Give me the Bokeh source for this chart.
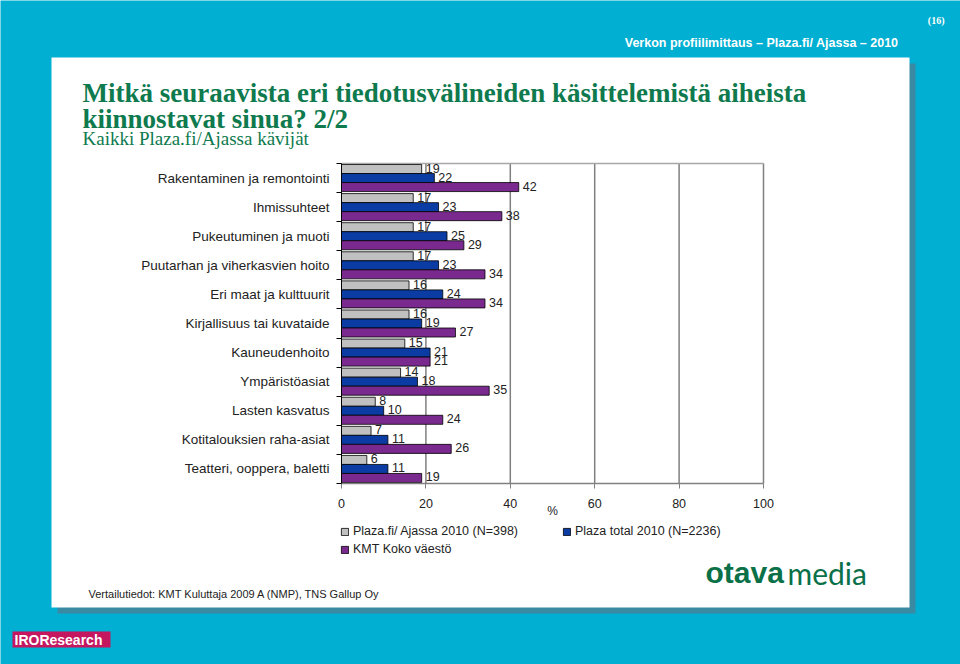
from bokeh.plotting import figure
from bokeh.models import Range1d, FixedTicker, BoxAnnotation, Label, Legend, LegendItem, LinearAxis
from bokeh.core.properties import value
from bokeh.embed import file_html
from bokeh.resources import INLINE

# ---------------- data ----------------
categories = [
    "Rakentaminen ja remontointi",
    "Ihmissuhteet",
    "Pukeutuminen ja muoti",
    "Puutarhan ja viherkasvien hoito",
    "Eri maat ja kulttuurit",
    "Kirjallisuus tai kuvataide",
    "Kauneudenhoito",
    "Ympäristöasiat",
    "Lasten kasvatus",
    "Kotitalouksien raha-asiat",
    "Teatteri, ooppera, baletti",
]
plaza_ajassa = [19, 17, 17, 17, 16, 16, 15, 14, 8, 7, 6]
plaza_total = [22, 23, 25, 23, 24, 19, 21, 18, 10, 11, 11]
kmt_koko = [42, 38, 29, 34, 34, 27, 21, 35, 24, 26, 19]
series_names = ["Plaza.fi/ Ajassa 2010 (N=398)", "Plaza total 2010 (N=2236)", "KMT Koko väestö"]
x_ticks = [0, 20, 40, 60, 80, 100]

title_line1 = "Mitkä seuraavista eri tiedotusvälineiden käsittelemistä aiheista"
title_line2 = "kiinnostavat sinua? 2/2"
subtitle = "Kaikki Plaza.fi/Ajassa kävijät"
header = "Verkon profiilimittaus – Plaza.fi/ Ajassa – 2010"
page_no = "(16)"
footnote = "Vertailutiedot: KMT Kuluttaja 2009 A (NMP), TNS Gallup Oy"

# ---------------- layout ----------------
W, H = 960, 664
PX0, PX100 = 341, 763      # pixel position of 0 % and 100 %
PY_TOP, PY_BOT = 163, 483  # pixel top/bottom of the bar area

CYAN = "#00AFD2"
SHADOW = "#3A8AA3"
GREEN = "#0E7A4E"
GRAY = "#C0C0C0"
BLUE = "#0B3CA3"
PURPLE = "#7A2A8E"
TXT = "#222222"

n = len(categories)
kx = (PX100 - PX0) / 100.0
ky = (PY_BOT - PY_TOP) / n
x_range = Range1d(-PX0 / kx, (W - PX0) / kx)
y_range = Range1d(-(H - PY_BOT) / ky, n + PY_TOP / ky)

p = figure(width=W, height=H, output_backend="svg", toolbar_location=None,
           x_range=x_range, y_range=y_range,
           x_axis_location=None, y_axis_location=None,
           min_border=0, min_border_left=0, min_border_right=0,
           min_border_top=0, min_border_bottom=0)
p.border_fill_color = CYAN
p.background_fill_color = CYAN
p.outline_line_color = None
for g in p.grid:
    g.visible = False


def box(l, t, r, b, color):
    ba = BoxAnnotation(left=l, right=r, top=H - t, bottom=H - b,
                       left_units="screen", right_units="screen",
                       top_units="screen", bottom_units="screen",
                       fill_color=color, fill_alpha=1, line_color=None, level="image")
    p.add_layout(ba)


def label(rx, ry, text, size, color=TXT, font="Liberation Sans", style="normal",
          align="left", baseline="middle"):
    lb = Label(x=rx, y=H - ry, x_units="screen", y_units="screen", text=text,
               text_font=font, text_font_size=size, text_color=color,
               text_font_style=style, text_align=align, text_baseline=baseline)
    p.add_layout(lb)


# panel with shadow
box(57, 63, 915, 613, SHADOW)
box(51, 57, 909, 607, "white")
# IRO Research logo box
box(12, 631, 110, 647, "#C4175F")

# ---------------- grid and frame lines ----------------
p.segment(x0=x_ticks[1:], y0=0, x1=x_ticks[1:], y1=n, line_color="#808080",
          line_width=1.5, level="underlay")
p.segment(x0=[0], y0=[n], x1=[100], y1=[n], line_color="#A8A8A8", line_width=1.5,
          level="underlay")

# ---------------- bars ----------------
centers = [n - i - 0.5 for i in range(n)]
bar_h = 0.31
offsets = [bar_h, 0.0, -bar_h]
colors = [GRAY, BLUE, PURPLE]
renderers = []
for vals, dy, col in zip([plaza_ajassa, plaza_total, kmt_koko], offsets, colors):
    ys = [c + dy for c in centers]
    r = p.hbar(y=ys, left=0, right=vals, height=bar_h, fill_color=col,
               line_color="black", line_width=0.8)
    renderers.append(r)
    p.text(x=vals, y=ys, text=[str(v) for v in vals], x_offset=4, y_offset=-1,
           text_baseline="middle", text_align="left",
           text_font=value("Liberation Sans"), text_font_size="12.5px", text_color=TXT)

# ---------------- axes ----------------
xaxis = LinearAxis(fixed_location=0, bounds=(0, 100), ticker=FixedTicker(ticks=x_ticks))
xaxis.axis_line_color = "#808080"
xaxis.axis_line_width = 1.5
xaxis.major_tick_line_color = "#808080"
xaxis.major_tick_out = 5
xaxis.major_tick_in = 0
xaxis.minor_tick_line_color = None
xaxis.major_label_standoff = 10
xaxis.major_label_text_font = "Liberation Sans"
xaxis.major_label_text_font_size = "12.5px"
xaxis.major_label_text_color = TXT
xaxis.axis_label = "%"
xaxis.axis_label_text_font = "Liberation Sans"
xaxis.axis_label_text_font_size = "12px"
xaxis.axis_label_text_font_style = "normal"
xaxis.axis_label_text_color = TXT
xaxis.axis_label_standoff = -7
p.add_layout(xaxis, "below")

yaxis = LinearAxis(fixed_location=0, bounds=(0, n),
                   ticker=FixedTicker(ticks=centers, minor_ticks=list(range(n + 1))))
yaxis.major_label_overrides = {c: cat for c, cat in zip(centers, categories)}
yaxis.axis_line_color = "black"
yaxis.major_tick_line_color = None
yaxis.major_tick_out = 0
yaxis.major_tick_in = 0
yaxis.minor_tick_line_color = "black"
yaxis.minor_tick_out = 5
yaxis.minor_tick_in = 0
yaxis.major_label_standoff = 7
yaxis.major_label_text_font = "Liberation Sans"
yaxis.major_label_text_font_size = "13.5px"
yaxis.major_label_text_color = TXT
p.add_layout(yaxis, "left")

# ---------------- legends ----------------
common = dict(border_line_color=None, background_fill_alpha=0, padding=0, margin=0,
              glyph_width=9, glyph_height=9, label_standoff=4,
              label_text_font="Liberation Sans", label_text_font_size="12.5px",
              label_text_color=TXT, label_height=14)
leg1 = Legend(items=[LegendItem(label=series_names[0], renderers=[renderers[0]]),
                     LegendItem(label=series_names[1], renderers=[renderers[1]])],
              orientation="horizontal", label_width=200, spacing=9,
              location=(340, H - 538), **common)
leg2 = Legend(items=[LegendItem(label=series_names[2], renderers=[renderers[2]])],
              orientation="horizontal", location=(340, H - 556), **common)
p.add_layout(leg1)
p.add_layout(leg2)

# ---------------- texts ----------------
label(898, 42, header, "12.5px", color="white", style="bold", align="right")
label(944, 20, page_no, "10px", color="white", font="Liberation Serif", style="bold", align="right")
label(82, 92, title_line1, "27px", color=GREEN, font="Liberation Serif", style="bold")
label(82, 118, title_line2, "27px", color=GREEN, font="Liberation Serif", style="bold")
label(82, 138, subtitle, "19px", color=GREEN, font="Liberation Serif")
label(88, 593, footnote, "11px", color=TXT)
label(705, 572, "otava", "30px", color="#0A7048", style="bold")
label(787, 572, "media", "30px", color="#0A7048", font="Lato")
label(14, 639, "IROResearch", "14px", color="white", style="bold")

open("out.html", "w").write(file_html(p, INLINE))
